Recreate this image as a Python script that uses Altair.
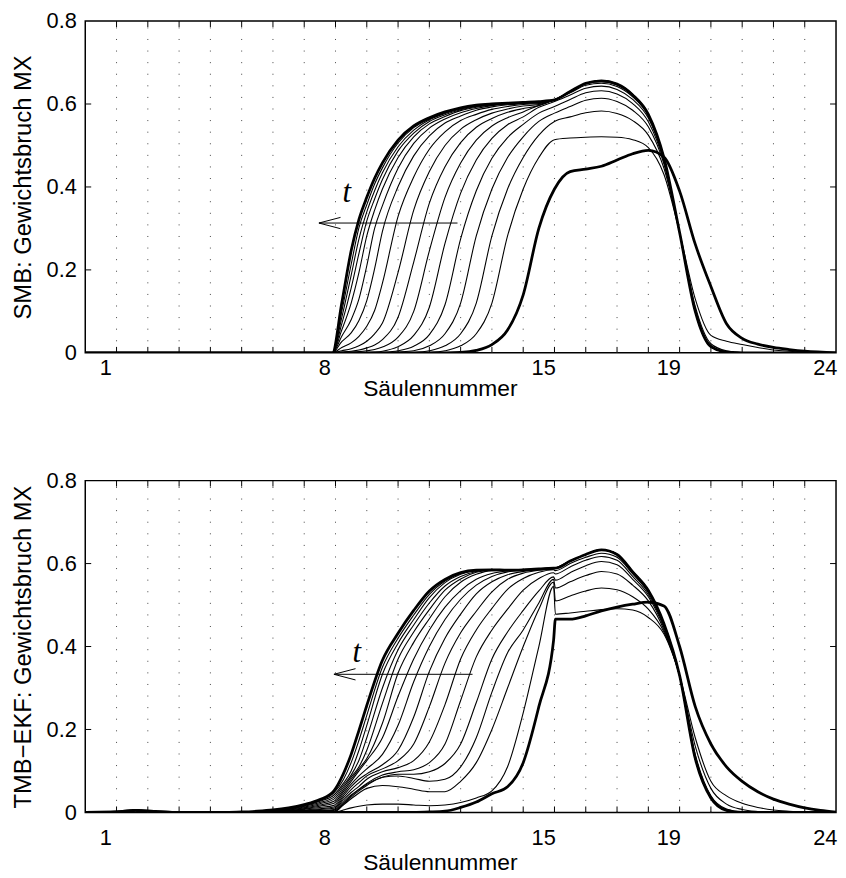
import altair as alt
import pandas as pd

# ---------------- axis values ----------------
X_TICK_LABELS = [1, 8, 15, 19, 24]
Y_TICKS = [0, 0.2, 0.4, 0.6, 0.8]
GRID_COLUMNS = list(range(1, 24))

# ---------------- SMB panel (top) ----------------
X_TOP = [0, 7.9, 8.2, 8.5, 8.75, 9, 9.25, 9.5, 10, 10.5, 11, 11.5, 12, 12.5, 13, 13.5, 14, 14.5,
         15, 15.5, 16, 16.5, 17, 17.5, 18, 18.5, 19, 19.5, 20, 20.5, 21, 21.5, 22, 22.5, 23, 24]

SMB_00 = [0, 0, 0, 0, 0, 0, 0, 0, 0, 0, 0, 0, 0.001, 0.006, 0.02, 0.055, 0.14, 0.30,
          0.395, 0.437, 0.443, 0.450, 0.465, 0.480, 0.488, 0.472, 0.390, 0.262, 0.160, 0.070, 0.035, 0.021, 0.013, 0.008, 0.004, 0]
SMB_01 = [0, 0, 0, 0, 0, 0, 0, 0, 0, 0, 0.001, 0.005, 0.017, 0.046, 0.12, 0.282, 0.395, 0.471,
          0.514, 0.518, 0.520, 0.521, 0.520, 0.514, 0.495, 0.430, 0.290, 0.130, 0.042, 0.028, 0.020, 0.013, 0.007, 0.004, 0.002, 0]
SMB_02 = [0, 0, 0, 0, 0, 0, 0, 0, 0, 0.001, 0.005, 0.017, 0.046, 0.12, 0.282, 0.395, 0.471, 0.525,
          0.558, 0.569, 0.579, 0.583, 0.577, 0.560, 0.525, 0.445, 0.290, 0.112, 0.022, 0.005, 0.001, 0, 0, 0, 0, 0]
SMB_03 = [0, 0, 0, 0, 0, 0, 0, 0, 0.002, 0.005, 0.017, 0.046, 0.12, 0.282, 0.395, 0.471, 0.521, 0.558,
          0.578, 0.594, 0.609, 0.614, 0.606, 0.585, 0.545, 0.455, 0.290, 0.105, 0.018, 0.003, 0, 0, 0, 0, 0, 0]
SMB_04 = [0, 0, 0, 0, 0, 0, 0, 0.001, 0.005, 0.016, 0.044, 0.116, 0.275, 0.391, 0.469, 0.519, 0.551, 0.578,
          0.594, 0.611, 0.627, 0.632, 0.624, 0.601, 0.557, 0.460, 0.290, 0.102, 0.016, 0.002, 0, 0, 0, 0, 0, 0]
SMB_05 = [0, 0, 0, 0, 0.001, 0.001, 0.002, 0.004, 0.015, 0.042, 0.11, 0.264, 0.385, 0.465, 0.517, 0.550, 0.569, 0.592,
          0.606, 0.622, 0.638, 0.643, 0.635, 0.611, 0.566, 0.465, 0.290, 0.101, 0.015, 0.002, 0, 0, 0, 0, 0, 0]
SMB_06 = [0, 0, 0.001, 0.002, 0.003, 0.005, 0.008, 0.014, 0.038, 0.10, 0.246, 0.375, 0.458, 0.513, 0.547, 0.567, 0.581, 0.597,
          0.610, 0.627, 0.645, 0.650, 0.642, 0.617, 0.571, 0.468, 0.290, 0.100, 0.015, 0.002, 0, 0, 0, 0, 0, 0]
SMB_07 = [0, 0, 0.002, 0.004, 0.007, 0.012, 0.019, 0.032, 0.086, 0.219, 0.361, 0.449, 0.507, 0.544, 0.565, 0.580, 0.589, 0.596,
          0.610, 0.629, 0.648, 0.654, 0.646, 0.620, 0.574, 0.470, 0.290, 0.100, 0.015, 0.002, 0, 0, 0, 0, 0, 0]
SMB_08 = [0, 0, 0.005, 0.010, 0.017, 0.028, 0.046, 0.072, 0.194, 0.344, 0.437, 0.500, 0.539, 0.562, 0.578, 0.588, 0.595, 0.599,
          0.610, 0.630, 0.650, 0.656, 0.648, 0.622, 0.575, 0.470, 0.290, 0.100, 0.015, 0.002, 0, 0, 0, 0, 0, 0]
SMB_09 = [0, 0, 0.013, 0.024, 0.04, 0.064, 0.102, 0.168, 0.329, 0.424, 0.491, 0.533, 0.560, 0.575, 0.587, 0.594, 0.599, 0.601,
          0.610, 0.630, 0.650, 0.656, 0.648, 0.622, 0.575, 0.470, 0.290, 0.100, 0.015, 0.002, 0, 0, 0, 0, 0, 0]
SMB_10 = [0, 0, 0.027, 0.048, 0.078, 0.126, 0.203, 0.293, 0.401, 0.475, 0.523, 0.554, 0.571, 0.585, 0.593, 0.598, 0.601, 0.603,
          0.610, 0.630, 0.650, 0.656, 0.648, 0.622, 0.575, 0.470, 0.290, 0.100, 0.015, 0.002, 0, 0, 0, 0, 0, 0]
SMB_11 = [0, 0, 0.04, 0.08, 0.13, 0.21, 0.30, 0.355, 0.445, 0.505, 0.542, 0.564, 0.579, 0.589, 0.596, 0.600, 0.602, 0.604,
          0.610, 0.630, 0.650, 0.656, 0.648, 0.622, 0.575, 0.470, 0.290, 0.100, 0.015, 0.002, 0, 0, 0, 0, 0, 0]
SMB_12 = [0, 0, 0.055, 0.12, 0.194, 0.282, 0.344, 0.395, 0.471, 0.521, 0.552, 0.570, 0.584, 0.592, 0.598, 0.601, 0.603, 0.605,
          0.610, 0.630, 0.650, 0.656, 0.648, 0.622, 0.575, 0.470, 0.290, 0.100, 0.015, 0.002, 0, 0, 0, 0, 0, 0]
SMB_13 = [0, 0, 0.07, 0.156, 0.24, 0.318, 0.371, 0.418, 0.487, 0.530, 0.558, 0.574, 0.586, 0.594, 0.598, 0.601, 0.603, 0.605,
          0.610, 0.630, 0.650, 0.656, 0.648, 0.622, 0.575, 0.470, 0.290, 0.100, 0.015, 0.002, 0, 0, 0, 0, 0, 0]
SMB_14 = [0, 0, 0.085, 0.187, 0.275, 0.340, 0.391, 0.434, 0.497, 0.537, 0.562, 0.577, 0.588, 0.595, 0.599, 0.602, 0.603, 0.605,
          0.610, 0.630, 0.650, 0.656, 0.648, 0.622, 0.575, 0.470, 0.290, 0.100, 0.015, 0.002, 0, 0, 0, 0, 0, 0]
SMB_15 = [0, 0, 0.10, 0.213, 0.302, 0.357, 0.407, 0.446, 0.506, 0.543, 0.564, 0.579, 0.589, 0.596, 0.600, 0.602, 0.604, 0.605,
          0.610, 0.630, 0.650, 0.656, 0.648, 0.622, 0.575, 0.470, 0.290, 0.100, 0.015, 0.002, 0, 0, 0, 0, 0, 0]
SMB_16 = [0, 0, 0.12, 0.246, 0.322, 0.375, 0.421, 0.458, 0.513, 0.547, 0.567, 0.581, 0.591, 0.597, 0.600, 0.602, 0.604, 0.606,
          0.610, 0.630, 0.650, 0.656, 0.648, 0.622, 0.575, 0.470, 0.290, 0.100, 0.015, 0.002, 0, 0, 0, 0, 0, 0]

SMB_CURVES = [SMB_00, SMB_01, SMB_02, SMB_03, SMB_04, SMB_05, SMB_06, SMB_07, SMB_08,
              SMB_09, SMB_10, SMB_11, SMB_12, SMB_13, SMB_14, SMB_15, SMB_16]

# ---------------- TMB-EKF panel (bottom) ----------------
X_BOT = [0, 1, 1.6, 2.3, 3, 4.5, 5, 5.5, 6, 6.5, 7, 7.5, 7.95, 8.25, 8.5, 8.75, 9, 9.5, 10, 10.5, 11, 11.5,
         12, 12.5, 13, 13.5, 14, 14.5, 14.97, 15.03, 15.5, 16, 16.5, 17, 17.5, 18, 18.5, 19, 19.5, 20, 20.5,
         21, 21.5, 22, 22.5, 23, 23.5, 24]

TMB_00 = [0, 0.001, 0.005, 0.002, 0, 0, 0, 0, 0, 0, 0, 0, 0,
          0, 0, 0, 0, 0, 0, 0, 0.001, 0.003, 0.012, 0.025, 0.045, 0.062, 0.12, 0.255, 0.414,
          0.466, 0.466, 0.474, 0.486, 0.495, 0.502, 0.507, 0.498, 0.40, 0.255, 0.165, 0.11, 0.075, 0.05, 0.032, 0.02, 0.011, 0.005, 0.001]
TMB_01 = [0, 0.001, 0.005, 0.002, 0, 0, 0, 0, 0, 0, 0, 0.001, 0,
          0.006, 0.011, 0.015, 0.018, 0.02, 0.02, 0.018, 0.016, 0.018, 0.024, 0.035, 0.052, 0.11, 0.24, 0.40, 0.545,
          0.478, 0.481, 0.485, 0.489, 0.491, 0.488, 0.47, 0.43, 0.33, 0.18, 0.075, 0.04, 0.022, 0.012, 0.006, 0.003, 0.001, 0, 0]
TMB_02 = [0, 0.001, 0.005, 0.002, 0, 0, 0, 0, 0, 0, 0.001, 0.001, 0.001,
          0.018, 0.033, 0.047, 0.058, 0.065, 0.062, 0.056, 0.05, 0.05, 0.075, 0.12, 0.2, 0.3, 0.40, 0.49, 0.555,
          0.510, 0.522, 0.534, 0.541, 0.537, 0.52, 0.49, 0.435, 0.33, 0.16, 0.058, 0.02, 0.007, 0.002, 0, 0, 0, 0, 0]
TMB_03 = [0, 0.001, 0.005, 0.002, 0, 0, 0, 0, 0, 0.001, 0.001, 0.002, 0.002,
          0.02, 0.037, 0.052, 0.065, 0.085, 0.088, 0.082, 0.075, 0.08, 0.11, 0.18, 0.29, 0.385, 0.44, 0.505, 0.562,
          0.541, 0.556, 0.571, 0.581, 0.575, 0.548, 0.51, 0.44, 0.33, 0.14, 0.04, 0.008, 0.001, 0, 0, 0, 0, 0, 0]
TMB_04 = [0, 0.001, 0.005, 0.002, 0, 0, 0, 0, 0.001, 0.001, 0.002, 0.003, 0.003,
          0.022, 0.04, 0.055, 0.068, 0.085, 0.092, 0.092, 0.098, 0.118, 0.165, 0.265, 0.37, 0.435, 0.487, 0.534, 0.568,
          0.560, 0.578, 0.595, 0.605, 0.597, 0.562, 0.52, 0.445, 0.33, 0.135, 0.037, 0.006, 0, 0, 0, 0, 0, 0, 0]
TMB_05 = [0, 0.001, 0.005, 0.002, 0, 0, 0, 0, 0.001, 0.002, 0.003, 0.004, 0.005,
          0.025, 0.042, 0.056, 0.07, 0.09, 0.098, 0.103, 0.12, 0.165, 0.27, 0.375, 0.44, 0.49, 0.536, 0.564, 0.578,
          0.575, 0.592, 0.608, 0.617, 0.608, 0.569, 0.525, 0.449, 0.33, 0.132, 0.036, 0.005, 0, 0, 0, 0, 0, 0, 0]
TMB_06 = [0, 0.001, 0.005, 0.002, 0, 0, 0, 0.001, 0.001, 0.002, 0.004, 0.005, 0.007,
          0.03, 0.048, 0.063, 0.08, 0.098, 0.108, 0.125, 0.17, 0.26, 0.37, 0.44, 0.492, 0.538, 0.564, 0.579, 0.585,
          0.583, 0.600, 0.615, 0.625, 0.615, 0.575, 0.530, 0.452, 0.33, 0.13, 0.035, 0.005, 0, 0, 0, 0, 0, 0, 0]
TMB_07 = [0, 0.001, 0.005, 0.002, 0, 0, 0, 0.001, 0.002, 0.003, 0.005, 0.007, 0.010,
          0.035, 0.055, 0.072, 0.088, 0.105, 0.125, 0.165, 0.255, 0.36, 0.433, 0.485, 0.532, 0.562, 0.577, 0.584, 0.587,
          0.589, 0.606, 0.622, 0.633, 0.622, 0.58, 0.535, 0.455, 0.33, 0.13, 0.035, 0.005, 0, 0, 0, 0, 0, 0, 0]
TMB_08 = [0, 0.001, 0.005, 0.002, 0, 0, 0, 0.001, 0.002, 0.004, 0.006, 0.009, 0.013,
          0.04, 0.062, 0.08, 0.093, 0.115, 0.15, 0.23, 0.34, 0.42, 0.478, 0.527, 0.556, 0.573, 0.581, 0.585, 0.588,
          0.589, 0.606, 0.622, 0.633, 0.622, 0.58, 0.535, 0.455, 0.33, 0.13, 0.035, 0.005, 0, 0, 0, 0, 0, 0, 0]
TMB_09 = [0, 0.001, 0.005, 0.002, 0, 0, 0, 0.001, 0.003, 0.004, 0.008, 0.012, 0.017,
          0.045, 0.068, 0.088, 0.105, 0.14, 0.21, 0.315, 0.40, 0.465, 0.514, 0.548, 0.569, 0.58, 0.584, 0.586, 0.588,
          0.589, 0.606, 0.622, 0.633, 0.622, 0.58, 0.535, 0.455, 0.33, 0.13, 0.035, 0.005, 0, 0, 0, 0, 0, 0, 0]
TMB_10 = [0, 0.001, 0.005, 0.002, 0, 0, 0.001, 0.002, 0.003, 0.005, 0.009, 0.015, 0.022,
          0.05, 0.075, 0.10, 0.125, 0.18, 0.28, 0.37, 0.44, 0.495, 0.535, 0.562, 0.576, 0.582, 0.584, 0.586, 0.588,
          0.589, 0.606, 0.622, 0.633, 0.622, 0.58, 0.535, 0.455, 0.33, 0.13, 0.035, 0.005, 0, 0, 0, 0, 0, 0, 0]
TMB_11 = [0, 0.001, 0.005, 0.002, 0, 0, 0.001, 0.002, 0.004, 0.006, 0.011, 0.018, 0.027,
          0.055, 0.08, 0.105, 0.13, 0.215, 0.336, 0.41, 0.467, 0.52, 0.555, 0.574, 0.583, 0.584, 0.585, 0.587, 0.588,
          0.589, 0.606, 0.622, 0.633, 0.622, 0.58, 0.535, 0.455, 0.33, 0.13, 0.035, 0.005, 0, 0, 0, 0, 0, 0, 0]
TMB_12 = [0, 0.001, 0.005, 0.002, 0, 0, 0.001, 0.002, 0.004, 0.007, 0.013, 0.021, 0.032,
          0.06, 0.085, 0.11, 0.15, 0.263, 0.37, 0.435, 0.489, 0.536, 0.563, 0.579, 0.584, 0.584, 0.585, 0.587, 0.589,
          0.589, 0.606, 0.622, 0.633, 0.622, 0.58, 0.535, 0.455, 0.33, 0.13, 0.035, 0.005, 0, 0, 0, 0, 0, 0, 0]
TMB_13 = [0, 0.001, 0.005, 0.002, 0, 0, 0.001, 0.002, 0.005, 0.008, 0.015, 0.024, 0.037,
          0.065, 0.09, 0.126, 0.18, 0.30, 0.392, 0.452, 0.505, 0.546, 0.569, 0.581, 0.585, 0.584, 0.585, 0.587, 0.589,
          0.589, 0.606, 0.622, 0.633, 0.622, 0.58, 0.535, 0.455, 0.33, 0.13, 0.035, 0.005, 0, 0, 0, 0, 0, 0, 0]
TMB_14 = [0, 0.001, 0.005, 0.002, 0, 0, 0.001, 0.003, 0.005, 0.009, 0.016, 0.027, 0.042,
          0.07, 0.10, 0.15, 0.21, 0.333, 0.408, 0.465, 0.518, 0.554, 0.574, 0.583, 0.585, 0.584, 0.585, 0.587, 0.589,
          0.589, 0.606, 0.622, 0.633, 0.622, 0.58, 0.535, 0.455, 0.33, 0.13, 0.035, 0.005, 0, 0, 0, 0, 0, 0, 0]
TMB_15 = [0, 0.001, 0.005, 0.002, 0, 0, 0.001, 0.003, 0.006, 0.010, 0.018, 0.029, 0.047,
          0.079, 0.12, 0.174, 0.234, 0.35, 0.42, 0.476, 0.526, 0.558, 0.576, 0.583, 0.585, 0.584, 0.585, 0.587, 0.589,
          0.589, 0.606, 0.622, 0.633, 0.622, 0.58, 0.535, 0.455, 0.33, 0.13, 0.035, 0.005, 0, 0, 0, 0, 0, 0, 0]
TMB_16 = [0, 0.001, 0.005, 0.002, 0, 0, 0.001, 0.003, 0.006, 0.011, 0.019, 0.031, 0.052,
          0.093, 0.14, 0.198, 0.258, 0.367, 0.432, 0.487, 0.534, 0.562, 0.578, 0.584, 0.585, 0.584, 0.585, 0.587, 0.589,
          0.589, 0.606, 0.622, 0.633, 0.622, 0.58, 0.535, 0.455, 0.33, 0.13, 0.035, 0.005, 0, 0, 0, 0, 0, 0, 0]

TMB_CURVES = [TMB_00, TMB_01, TMB_02, TMB_03, TMB_04, TMB_05, TMB_06, TMB_07, TMB_08,
              TMB_09, TMB_10, TMB_11, TMB_12, TMB_13, TMB_14, TMB_15, TMB_16]

THICK_INDEX = [0, 16]   # first (start) and last profile drawn bold

# ---------------- geometry / style ----------------
PLOT_W, PLOT_H = 758, 335
X_DOMAIN = [0, 24]
Y_DOMAIN = [0, 0.8]
LABEL_SHIFT = 0.36
FONT = "Liberation Sans"


def curves_frame(xs, curves):
    rows = []
    for i, ys in enumerate(curves):
        assert len(ys) == len(xs), (i, len(ys), len(xs))
        for x, y in zip(xs, ys):
            rows.append({"x": x, "y": y, "curve": f"c{i:02d}", "thick": i in THICK_INDEX})
    return pd.DataFrame(rows)


def xenc(label_pad, title_y):
    return alt.X("x:Q", scale=alt.Scale(domain=X_DOMAIN, nice=False, zero=False),
                 axis=alt.Axis(values=[v - LABEL_SHIFT for v in X_TICK_LABELS],
                               labelExpr="format(round(datum.value + 0.36), 'd')",
                               ticks=False, domain=False, grid=False, labelFlush=False,
                               title="Säulennummer", labelPadding=label_pad,
                               titleX=358, titleY=title_y, titleBaseline="middle"))


def yenc(title):
    return alt.Y("y:Q", scale=alt.Scale(domain=Y_DOMAIN, nice=False, zero=False),
                 axis=alt.Axis(values=Y_TICKS,
                               labelExpr="datum.value == 0 ? '0' : format(datum.value, '.1f')",
                               ticks=False, domain=False, grid=False,
                               title=title, labelPadding=9, titlePadding=11))


def panel(xs, curves, ytitle, arrow_y, arrow_x0, arrow_x1, t_x, t_y, label_pad, title_y):
    df = curves_frame(xs, curves)
    X = lambda: xenc(label_pad, title_y)
    tl_y = Y_DOMAIN[1] * 6 / PLOT_H
    tl_x = X_DOMAIN[1] * 6 / PLOT_W
    grid = pd.DataFrame({"x": GRID_COLUMNS, "y": [0.0] * len(GRID_COLUMNS), "y2": [0.8] * len(GRID_COLUMNS)})
    segs = []
    for g in GRID_COLUMNS:
        segs.append({"x": g, "x2": g, "y": 0.0, "y2": tl_y})
        segs.append({"x": g, "x2": g, "y": 0.8, "y2": 0.8 - tl_y})
    for v in Y_TICKS[1:-1]:
        segs.append({"x": 0.0, "x2": tl_x, "y": v, "y2": v})
        segs.append({"x": 24.0, "x2": 24.0 - tl_x, "y": v, "y2": v})
    # arrow (t direction)
    hx, hy = 0.69, 0.0136
    segs.append({"x": arrow_x0, "x2": arrow_x1, "y": arrow_y, "y2": arrow_y})
    segs.append({"x": arrow_x0, "x2": arrow_x0 + hx, "y": arrow_y, "y2": arrow_y + hy})
    segs.append({"x": arrow_x0, "x2": arrow_x0 + hx, "y": arrow_y, "y2": arrow_y - hy})
    segs = pd.DataFrame(segs)

    grid_layer = alt.Chart(grid).mark_rule(color="#444444", strokeWidth=1, strokeDash=[1, 10.7]).encode(
        x=X(), y=yenc(ytitle), y2="y2:Q")
    seg_layer = alt.Chart(segs).mark_rule(color="black", strokeWidth=1).encode(
        x=X(), x2="x2:Q", y=yenc(ytitle), y2="y2:Q")
    thin = alt.Chart(df[~df["thick"]]).mark_line(color="black", strokeWidth=1.1, interpolate="monotone", clip=True).encode(
        x=X(), y=yenc(ytitle), detail="curve:N")
    thick = alt.Chart(df[df["thick"]]).mark_line(color="black", strokeWidth=2.8, interpolate="monotone", clip=True).encode(
        x=X(), y=yenc(ytitle), detail="curve:N")
    tdf = pd.DataFrame({"x": [t_x], "y": [t_y], "label": ["t"]})
    tlayer = alt.Chart(tdf).mark_text(font="Liberation Serif", fontStyle="italic", fontSize=31,
                                      color="black", baseline="middle", align="center").encode(
        x=X(), y=yenc(ytitle), text="label:N")
    return alt.layer(grid_layer, seg_layer, thin, thick, tlayer).properties(width=PLOT_W, height=PLOT_H)


top = panel(X_TOP, SMB_CURVES, "SMB: Gewichtsbruch MX", 0.313, 7.47, 11.9, 8.36, 0.385, 5, 36)
bottom = panel(X_BOT, TMB_CURVES, "TMB−EKF: Gewichtsbruch MX", 0.333, 7.95, 12.38, 8.68, 0.384, 15, 51)

chart = alt.vconcat(top, bottom, spacing=68).properties(
    padding={"left": 2, "top": -3, "right": 0, "bottom": -5}
).configure_view(stroke="black", strokeWidth=1.5).configure_axis(
    labelFont=FONT, titleFont=FONT, labelFontSize=22,
    labelColor="black", titleColor="black", titleFontWeight="normal"
).configure_axisX(titleFontSize=23).configure_axisY(titleFontSize=24)

chart.save("out.html", embed_options={"renderer": "svg", "actions": False})
